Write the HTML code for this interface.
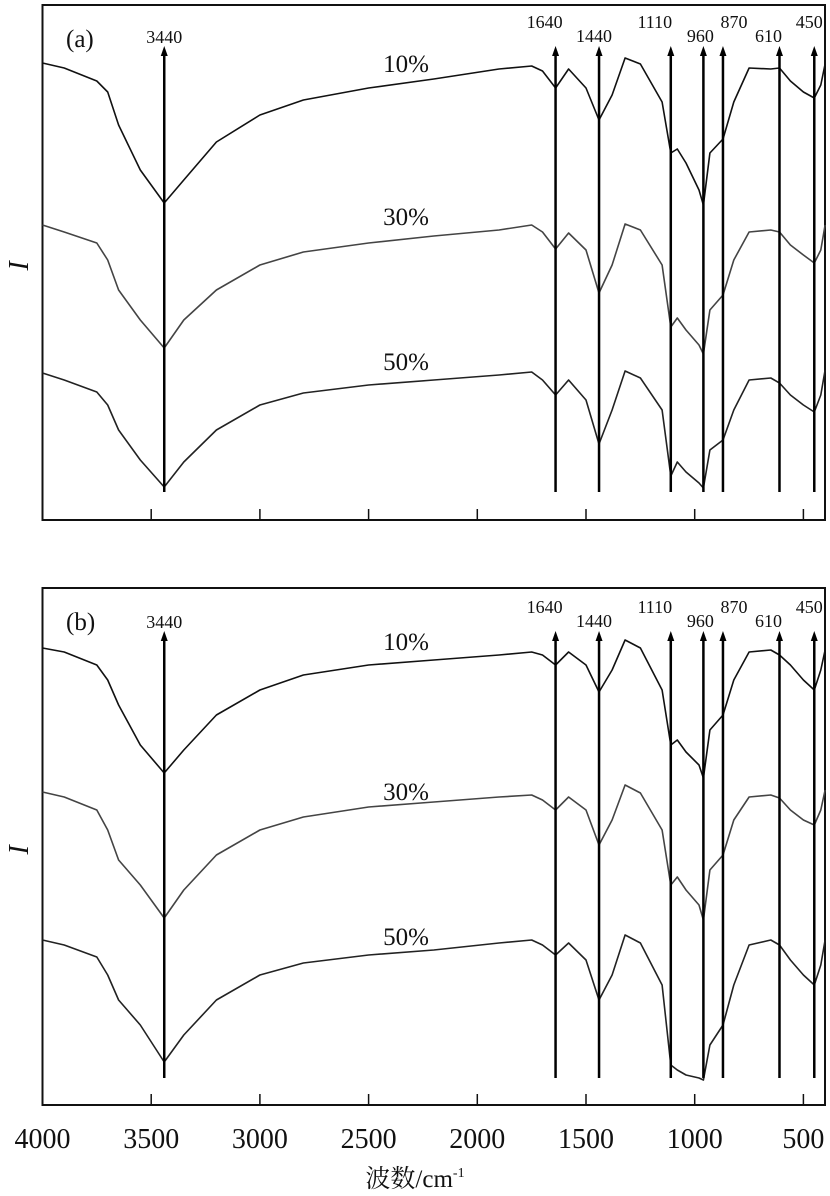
<!DOCTYPE html>
<html><head><meta charset="utf-8"><style>
html,body{margin:0;padding:0;background:#fff;}
svg{display:block;}
text{font-family:"Liberation Serif","Noto Serif CJK SC",serif;fill:#111;}
</style></head><body>
<svg id="chart" width="830" height="1196" viewBox="0 0 830 1196"></svg>
<script>
const wavenumbers=[4000,3900,3750,3700,3650,3550,3440,3350,3200,3000,2800,2500,2200,1900,1750,1700,1640,1580,1500,1440,1380,1320,1250,1150,1110,1080,1040,980,960,930,870,820,750,650,610,560,500,450,420,400];
const seriesNames=["10%","30%","50%"];
const panelA10=[63,68,81,92,125,170,203,180,142,115,100,88,79,69,66,71,88,69,88,120,95,58,64,102,153,149,163,190,205,153,139,102,68,69,68,81,92,98,85,64];
const panelA30=[225,232,243,260,290,320,348,320,290,265,252,243,236,230,225,232,249,233,250,293,265,224,230,265,327,318,330,345,354,310,295,260,232,230,232,245,255,263,250,225];
const panelA50=[373,380,392,405,430,460,487,462,430,405,393,385,380,375,372,380,395,380,400,444,410,371,378,410,476,462,472,483,488,450,440,410,380,378,383,395,405,412,395,370];
const panelB10=[63,67,80,95,120,160,188,165,130,105,90,80,75,70,67,70,80,67,80,107,85,55,63,105,160,155,167,180,193,145,130,95,67,65,70,80,95,105,85,65];
const panelB30=[207,212,225,245,275,300,333,305,270,245,232,222,217,212,210,215,225,212,225,260,235,200,208,245,300,292,305,320,335,285,270,235,212,210,213,225,235,240,225,205];
const panelB50=[355,360,372,390,415,440,477,450,415,390,378,370,365,358,355,360,370,358,375,415,390,350,358,400,480,485,490,493,495,460,440,400,360,355,360,375,390,400,380,355];
const peaks=[3440,1640,1440,1110,960,870,610,450];
const xTicks=[4000,3500,3000,2500,2000,1500,1000,500];

const NS="http://www.w3.org/2000/svg";
const svg=document.getElementById('chart');
function xs(w){return 42.5+(4000-w)*0.2174;}
function mk(tag,attrs,parent){const e=document.createElementNS(NS,tag);for(const k in attrs)e.setAttribute(k,attrs[k]);(parent||svg).appendChild(e);return e;}

const panels=[
 {id:'a',off:0,top:5,bot:520,series:[panelA10,panelA30,panelA50],lab:[72,225,370],arrowTop:48,arrowBot:492,labY:[28,42]},
 {id:'b',off:585,top:588,bot:1105,series:[panelB10,panelB30,panelB50],lab:[650,800,945],arrowTop:633,arrowBot:1078,labY:[613,627]}
];
const colors=['#111','#444','#222'];
panels.forEach(p=>{
 const g=mk('g',{});
 
 
 const fr=mk('rect',{x:42.5,y:p.top,width:782.5,height:p.bot-p.top,fill:'none',stroke:'#111','stroke-width':2},g);
 
 
 xTicks.slice(1).forEach(t=>{
  const tk=mk('line',{x1:xs(t),x2:xs(t),y1:p.bot,y2:p.bot-11,stroke:'#111','stroke-width':1.5},g);
  
  
 });
 p.series.forEach((s,i)=>{
  const pts=s.map((v,j)=>xs(wavenumbers[j]).toFixed(1)+','+(p.off+v)).join(' ');
  const pl=mk('polyline',{points:pts,fill:'none',stroke:colors[i],'stroke-width':1.6,'stroke-linejoin':'round'},g);
  
  
  const lt=mk('text',{x:406,y:p.lab[i],'font-size':25,'text-anchor':'middle'},g);
  lt.textContent=seriesNames[i];
  
  
 });
 peaks.forEach((w,k)=>{
  const x=xs(w);
  const ln=mk('line',{x1:x,x2:x,y1:p.arrowTop+4,y2:p.arrowBot,stroke:'#000','stroke-width':2.5},g);
  
  
  const ah=mk('polygon',{points:`${x-3.5},${p.arrowTop+8} ${x},${p.arrowTop-2} ${x+3.5},${p.arrowTop+8}`,fill:'#000'},g);
  
  
  let ty;
  if(w===3440) ty=p.labY[1]+1; else ty=(k%2===1)?p.labY[0]:p.labY[1];
  const tx=w===1640?x-11:(w===1440?x-5:(w===1110?x-16:(w===960?x-3:(w===870?x+11:(w===610?x-11:x-5)))));
  const t=mk('text',{x:w===3440?x:tx,y:ty,'font-size':18,'text-anchor':'middle'},g);
  t.textContent=w;
  
  
 });
 const pl=mk('text',{x:66,y:p.top+42,'font-size':25},g);
 pl.textContent='('+p.id+')';
 
 
 const yl=mk('text',{x:10,y:(p.top+p.bot)/2+10,'font-size':28,'font-style':'italic',transform:`rotate(-90 18 ${(p.top+p.bot)/2})`},g);
 yl.textContent='I';
 
 
});
xTicks.forEach(t=>{
 const tl=mk('text',{x:xs(t),y:1148,'font-size':28,'text-anchor':'middle'});
 tl.textContent=t;
 
 
});
const xt=mk('text',{x:415,y:1187,'font-size':25,'text-anchor':'middle'});
xt.innerHTML='波数/cm<tspan dy="-10" font-size="14">-1</tspan>';


</script>
</body></html>
